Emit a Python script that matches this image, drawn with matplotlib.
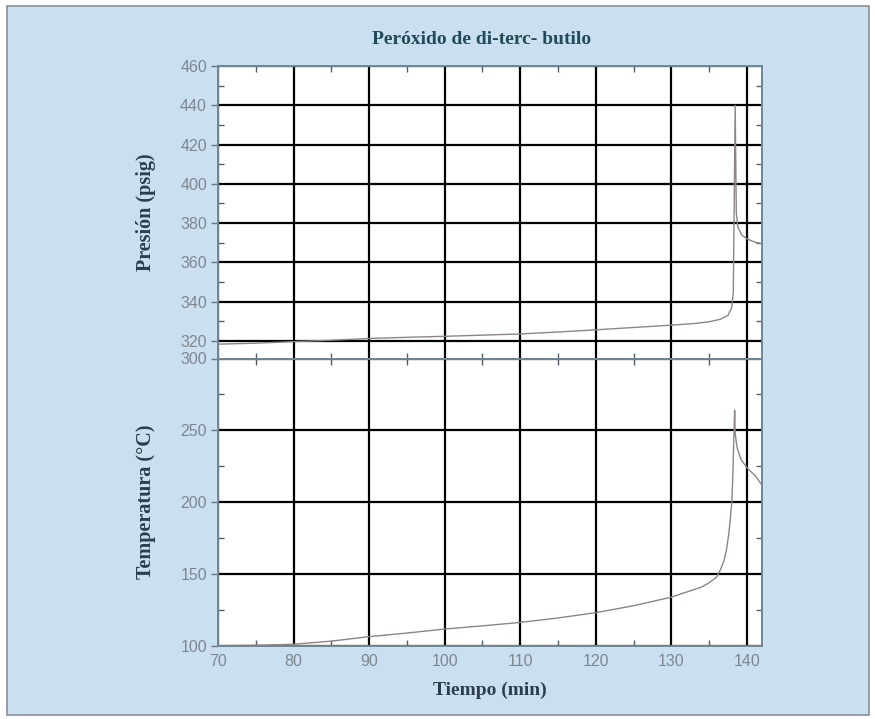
import matplotlib
matplotlib.use("Agg")
import matplotlib.pyplot as plt
from matplotlib.ticker import MultipleLocator
from matplotlib.patches import Rectangle

# ---- data ----
time_p = [70, 75, 80, 85, 90, 95, 100, 105, 110, 115, 120, 125, 130, 133, 135,
          136.5, 137.5, 138, 138.2, 138.35, 138.45, 138.6, 138.8, 139.3, 140, 141, 142]
pressure = [318.3, 318.8, 319.6, 320.3, 321.2, 321.8, 322.3, 322.9, 323.5, 324.5,
            325.6, 326.8, 328.0, 328.8, 329.7, 331.0, 333.0, 337.0, 345.0, 400.0,
            440.0, 385.0, 378.0, 374.0, 372.0, 370.3, 369.5]

time_t = [70, 75, 80, 85, 90, 95, 100, 105, 110, 115, 120, 125, 130, 132, 134, 135,
          136, 136.5, 137, 137.3, 137.6, 137.8, 138, 138.15, 138.3, 138.38, 138.45,
          138.7, 139.2, 140, 140.6, 141.2, 141.7, 142]
temperature = [100.2, 100.5, 101.2, 103.4, 106.5, 109.0, 111.8, 114.0, 116.4, 119.5,
               123.2, 128.0, 134.0, 137.5, 141.0, 144.0, 148.0, 153.0, 160.0, 167.0,
               178.0, 188.0, 200.0, 220.0, 250.0, 264.0, 248.0, 238.0, 230.0, 224.0,
               221.0, 218.0, 214.0, 212.0]

x_ticks = [70, 80, 90, 100, 110, 120, 130, 140]
p_ticks = [320, 340, 360, 380, 400, 420, 440, 460]
t_ticks = [100, 150, 200, 250, 300]

title = "Peróxido de di-terc- butilo"
xlabel = "Tiempo (min)"
ylabel_p = "Presión (psig)"
ylabel_t = "Temperatura (°C)"

# ---- styling ----
W, H = 875, 719
fig = plt.figure(figsize=(W / 100, H / 100), dpi=100)
bg = "#cadff0"
fig.patch.set_facecolor("white")
fig.patches.append(Rectangle((7 / W, 4 / H), 862 / W, 709 / H, transform=fig.transFigure,
                             facecolor=bg, edgecolor="#8a8f94", linewidth=1.2, zorder=-10))

L, R = 218, 762
top_top, mid, bot_bot = 66, 358.5, 646

def fig_rect(top, bottom):
    return [L / W, (H - bottom) / H, (R - L) / W, (bottom - top) / H]

ax1 = fig.add_axes(fig_rect(top_top, mid))
ax2 = fig.add_axes(fig_rect(mid, bot_bot))

spine_col = "#6d8797"
tick_lab_col = "#7d8790"
curve_col = "#8d8486"
label_col = "#2c3e4c"

for ax in (ax1, ax2):
    ax.set_facecolor("white")
    ax.set_xlim(70, 142)
    ax.set_xticks(x_ticks)
    ax.xaxis.set_minor_locator(MultipleLocator(5))
    for s in ax.spines.values():
        s.set_color(spine_col)
        s.set_linewidth(1.4)
    ax.grid(True, which="major", color="black", linewidth=1.6)
    ax.set_axisbelow(True)
    ax.tick_params(which="major", axis="y", direction="out", length=5, width=1,
                   color="#6b7680", labelcolor=tick_lab_col, labelsize=11.5, pad=3)
    ax.tick_params(which="major", axis="x", direction="in", length=0, width=1,
                   color="#6b7680", labelcolor=tick_lab_col, labelsize=11.5, pad=6)
    ax.tick_params(which="minor", direction="in", length=4, width=1, color="#555d66",
                   top=True, right=True)

ax1.plot(time_p, pressure, color=curve_col, linewidth=1.0)
ax1.set_ylim(311, 460)
ax1.set_yticks(p_ticks)
ax1.yaxis.set_minor_locator(MultipleLocator(10))
ax1.tick_params(axis="x", labelbottom=False)

ax2.plot(time_t, temperature, color=curve_col, linewidth=1.0)
ax2.set_ylim(100, 300)
ax2.set_yticks(t_ticks)
ax2.yaxis.set_minor_locator(MultipleLocator(25))

for lab in ax1.get_yticklabels() + ax2.get_yticklabels() + ax2.get_xticklabels():
    lab.set_fontfamily("Liberation Sans")

fig.text(482 / W, 1 - 40 / H, title, ha="center", va="center", fontsize=14,
         fontweight="bold", family="Liberation Serif", color="#1f4b5c")
fig.text(146 / W, 1 - 212 / H, ylabel_p, ha="center", va="center", rotation=90,
         fontsize=14.5, fontweight="bold", family="Liberation Serif", color=label_col)
fig.text(146 / W, 1 - 502 / H, ylabel_t, ha="center", va="center", rotation=90,
         fontsize=14.5, fontweight="bold", family="Liberation Serif", color=label_col)
fig.text(490 / W, 1 - 690 / H, xlabel, ha="center", va="center",
         fontsize=14, fontweight="bold", family="Liberation Serif", color=label_col)

fig.savefig("out.png", dpi=100, facecolor=fig.get_facecolor())
